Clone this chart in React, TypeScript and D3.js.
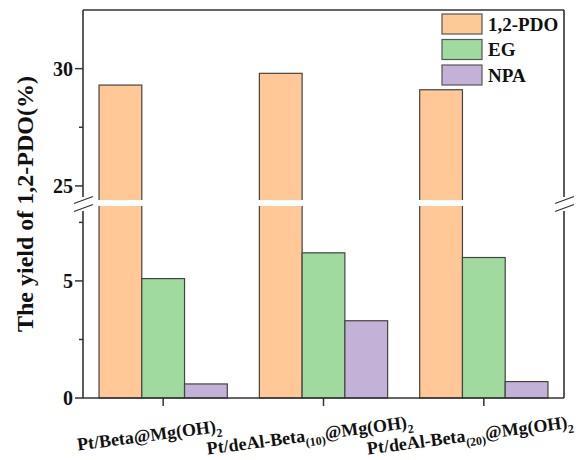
import React from "react";
import * as d3 from "d3";

const categories = [
  "Pt/Beta@Mg(OH)_{2}",
  "Pt/deAl-Beta_{(10)}@Mg(OH)_{2}",
  "Pt/deAl-Beta_{(20)}@Mg(OH)_{2}",
];
const seriesNames = ["1,2-PDO", "EG", "NPA"];
const pdoValues = [29.3, 29.8, 29.1];
const egValues = [5.1, 6.2, 6.0];
const npaValues = [0.6, 3.3, 0.7];
const lowerTicks = [0, 5];
const lowerMinor = [2.5, 7.5];
const upperTicks = [25, 30];
const upperMinor = [27.5];
const colors = ["#FFC896", "#A0DA9E", "#C3B1D8"];

const W = 578;
const H = 460;
const left = 83;
const right = 564;
const top = 10;
const bottom = 398;
const gapTop = 200;
const gapBottom = 206;
const lowMax = 8.2;
const highMin = 24.4;
const highMax = 32.5;
const font = "'Liberation Serif', 'Times New Roman', Times, serif";
const axisColor = "#333";

function parseLabel(s: string) {
  const parts: { t: string; sub: boolean }[] = [];
  const re = /_\{([^}]*)\}/g;
  let last = 0;
  let m;
  while ((m = re.exec(s))) {
    if (m.index > last) parts.push({ t: s.slice(last, m.index), sub: false });
    parts.push({ t: m[1], sub: true });
    last = m.index + m[0].length;
  }
  if (last < s.length) parts.push({ t: s.slice(last), sub: false });
  return parts;
}

export default function App() {
  const yLow = d3.scaleLinear().domain([0, lowMax]).range([bottom, gapBottom]);
  const yHigh = d3.scaleLinear().domain([highMin, highMax]).range([gapTop, top]);
  const x0 = d3
    .scaleBand<string>()
    .domain(categories)
    .range([left, right])
    .paddingInner(0.2)
    .paddingOuter(0.1);
  const x1 = d3
    .scaleBand<string>()
    .domain(seriesNames)
    .range([0, x0.bandwidth()])
    .padding(0);
  const data = [pdoValues, egValues, npaValues];
  const yOf = (v: number) => (v > lowMax ? yHigh(v) : yLow(v));

  const bars: React.ReactNode[] = [];
  categories.forEach((c, ci) => {
    seriesNames.forEach((s, si) => {
      const v = data[si][ci];
      const bx = (x0(c) as number) + (x1(s) as number);
      const bw = x1.bandwidth();
      const y = yOf(v);
      bars.push(
        <rect
          key={`b${ci}-${si}`}
          x={bx}
          y={y}
          width={bw}
          height={bottom - y}
          fill={colors[si]}
          stroke="#444"
          strokeWidth={1.2}
        />
      );
      if (v > lowMax) {
        bars.push(
          <rect
            key={`g${ci}-${si}`}
            x={bx - 1.5}
            y={gapTop}
            width={bw + 3}
            height={gapBottom - gapTop}
            fill="#fff"
          />
        );
      }
    });
  });

  const slash = (cx: number, cy: number, key: string) => (
    <line
      key={key}
      x1={cx - 9}
      y1={cy + 3.5}
      x2={cx + 10}
      y2={cy - 3.5}
      stroke={axisColor}
      strokeWidth={1.3}
    />
  );

  return (
    <svg
      width={W}
      height={H}
      style={{ position: "absolute", left: 0, top: 0, background: "#fff" }}
      fontFamily={font}
    >
      <rect x={0} y={0} width={W} height={H} fill="#fff" />
      {bars}
      {/* frame */}
      <g stroke={axisColor} strokeWidth={1.6} fill="none">
        <line x1={left} y1={top} x2={right} y2={top} />
        <line x1={left} y1={bottom} x2={right} y2={bottom} />
        <line x1={left} y1={top} x2={left} y2={gapTop - 3} />
        <line x1={left} y1={gapBottom + 5} x2={left} y2={bottom} />
        <line x1={right} y1={top} x2={right} y2={gapTop - 3} />
        <line x1={right} y1={gapBottom + 5} x2={right} y2={bottom} />
      </g>
      {slash(left, gapTop, "s1")}
      {slash(left, gapBottom + 2, "s2")}
      {slash(right, gapTop, "s3")}
      {slash(right, gapBottom + 2, "s4")}
      {/* y ticks */}
      <g stroke={axisColor} strokeWidth={1.5}>
        {lowerTicks.map((t) => (
          <line key={`lt${t}`} x1={left - 8} x2={left} y1={yLow(t)} y2={yLow(t)} />
        ))}
        {upperTicks.map((t) => (
          <line key={`ut${t}`} x1={left - 8} x2={left} y1={yHigh(t)} y2={yHigh(t)} />
        ))}
        {lowerMinor.map((t) => (
          <line key={`lm${t}`} x1={left - 4} x2={left} y1={yLow(t)} y2={yLow(t)} />
        ))}
        {upperMinor.map((t) => (
          <line key={`um${t}`} x1={left - 4} x2={left} y1={yHigh(t)} y2={yHigh(t)} />
        ))}
        {categories.map((c) => {
          const cx = (x0(c) as number) + x0.bandwidth() / 2;
          return <line key={`xt${c}`} x1={cx} x2={cx} y1={bottom} y2={bottom + 8} />;
        })}
      </g>
      <g fontSize={20} fontWeight="bold" fill="#111" textAnchor="end">
        {lowerTicks.map((t) => (
          <text key={`ll${t}`} x={left - 10} y={yLow(t)} dy="0.35em">
            {t}
          </text>
        ))}
        {upperTicks.map((t) => (
          <text key={`ul${t}`} x={left - 10} y={yHigh(t)} dy="0.35em">
            {t}
          </text>
        ))}
      </g>
      {/* x labels */}
      <g fontSize={18} fontWeight="bold" fill="#111">
        {categories.map((c) => {
          const cx = (x0(c) as number) + x0.bandwidth() / 2 - 13;
          const cy = 441;
          const parts = parseLabel(c);
          return (
            <text
              key={`xl${c}`}
              x={cx}
              y={cy}
              textAnchor="middle"
              transform={`rotate(-7.5, ${cx}, ${cy})`}
            >
              {parts.map((p, i) =>
                p.sub ? (
                  <tspan key={i} fontSize={12} dy={5}>
                    {p.t}
                  </tspan>
                ) : (
                  <tspan key={i} dy={i > 0 && parts[i - 1].sub ? -5 : 0}>
                    {p.t}
                  </tspan>
                )
              )}
            </text>
          );
        })}
      </g>
      {/* y label */}
      <text
        transform={`translate(33, ${(top + bottom) / 2}) rotate(-90)`}
        textAnchor="middle"
        fontSize={24}
        fontWeight="bold"
        fill="#111"
      >
        The yield of 1,2-PDO(%)
      </text>
      {/* legend */}
      <g>
        {seriesNames.map((s, i) => (
          <g key={`lg${s}`} transform={`translate(442, ${14 + i * 25.5})`}>
            <rect x={0} y={0} width={40} height={20} fill={colors[i]} stroke="#555" strokeWidth={1.2} />
            <text x={46} y={10} dy="0.35em" fontSize={19} fontWeight="bold" fill="#111">
              {s}
            </text>
          </g>
        ))}
      </g>
    </svg>
  );
}
